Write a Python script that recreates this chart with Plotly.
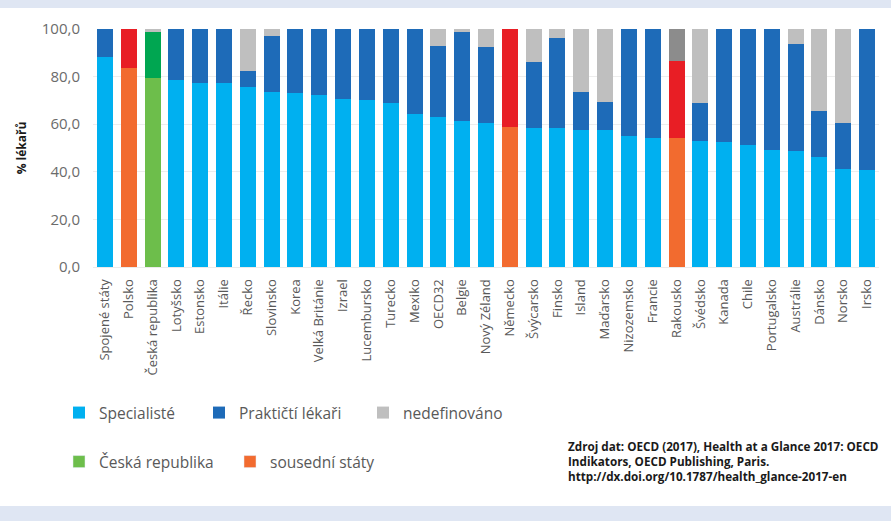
import plotly.graph_objects as go

countries = ["Spojené státy", "Polsko", "Česká republika", "Lotyšsko", "Estonsko", "Itálie",
             "Řecko", "Slovinsko", "Korea", "Velká Británie", "Izrael", "Lucembursko", "Turecko",
             "Mexiko", "OECD32", "Belgie", "Nový Zéland", "Německo", "Švýcarsko", "Finsko",
             "Island", "Maďarsko", "Nizozemsko", "Francie", "Rakousko", "Švédsko", "Kanada",
             "Chile", "Portugalsko", "Austrálie", "Dánsko", "Norsko", "Irsko"]
specialiste = [88.4, 83.5, 79.5, 78.6, 77.3, 77.2, 75.8, 73.7, 73.1, 72.1, 70.6, 70.0, 68.8,
               64.2, 63.2, 61.5, 60.6, 58.7, 58.3, 58.3, 57.6, 57.4, 55.2, 54.1, 54.1, 53.1, 52.7,
               51.3, 49.2, 48.7, 46.1, 41.2, 40.8]
prakticti = [11.6, 16.5, 19.3, 21.4, 22.7, 22.8, 6.6, 23.5, 26.9, 28.1, 29.4, 30.0, 31.2,
             35.8, 29.8, 37.4, 32.0, 41.3, 28.0, 38.0, 16.1, 11.8, 44.8, 45.9, 32.6, 15.7, 47.3,
             48.7, 50.8, 44.9, 19.6, 19.4, 59.2]
nedefinovano = [0.0, 0.0, 1.2, 0.0, 0.0, 0.0, 17.6, 2.8, 0.0, 0.0, 0.0, 0.0, 0.0,
                0.0, 7.0, 1.1, 7.4, 0.0, 13.7, 3.7, 26.3, 30.8, 0.0, 0.0, 13.3, 31.2, 0.0,
                0.0, 0.0, 6.4, 34.3, 39.4, 0.0]
group = ["oecd", "soused", "cr", "oecd", "oecd", "oecd", "oecd", "oecd", "oecd", "oecd", "oecd",
         "oecd", "oecd", "oecd", "oecd", "oecd", "oecd", "soused", "oecd", "oecd", "oecd", "oecd",
         "oecd", "oecd", "soused", "oecd", "oecd", "oecd", "oecd", "oecd", "oecd", "oecd", "oecd"]

C_SPEC, C_PRAK, C_NED = "#00B0F0", "#1E6BB8", "#BFBFBF"
C_CR1, C_CR2 = "#6DBE4B", "#00A651"
C_SO1, C_SO2, C_SO3 = "#F26B2F", "#E81E25", "#8C8C8C"

spec_col = [C_CR1 if g == "cr" else C_SO1 if g == "soused" else C_SPEC for g in group]
prak_col = [C_CR2 if g == "cr" else C_SO2 if g == "soused" else C_PRAK for g in group]
ned_col = [C_SO3 if g == "soused" else C_NED for g in group]

W, H = 891, 521
L, R, T, B = 93, 12, 29, 254
pw, ph = W - L - R, H - T - B


def px(xp):
    return (xp - L) / pw


def py(yp):
    return (H - B - yp) / ph


fig = go.Figure()
fig.add_trace(go.Bar(x=countries, y=specialiste, name="Specialisté", marker_color=spec_col,
                     marker_line_width=0, legend="legend", showlegend=True))
fig.add_trace(go.Bar(x=countries, y=prakticti, name="Praktičtí lékaři", marker_color=prak_col,
                     marker_line_width=0, legend="legend2", showlegend=True))
fig.add_trace(go.Bar(x=countries, y=nedefinovano, name="nedefinováno", marker_color=ned_col,
                     marker_line_width=0, legend="legend3", showlegend=True))
# legend-only entries
fig.add_trace(go.Bar(x=[None], y=[None], name="Česká republika", marker_color=C_CR1,
                     legend="legend4", showlegend=True))
fig.add_trace(go.Bar(x=[None], y=[None], name="sousední státy", marker_color=C_SO1,
                     legend="legend5", showlegend=True))

band = "#DFE6F3"
fig.add_shape(type="rect", xref="paper", yref="paper", x0=px(0), x1=px(W), y0=py(0), y1=py(8),
              fillcolor=band, line_width=0, layer="below")
fig.add_shape(type="rect", xref="paper", yref="paper", x0=px(0), x1=px(W), y0=py(506), y1=py(H),
              fillcolor=band, line_width=0, layer="below")

legfont = dict(family="Open Sans", size=15.5, color="#595959")


def leg(xsq, ycen):
    return dict(orientation="h", x=px(xsq - 14), xanchor="left", y=py(ycen), yanchor="middle",
                font=legfont, bgcolor="rgba(0,0,0,0)", itemclick=False, visible=True)


fig.update_layout(
    width=W, height=H,
    margin=dict(l=L, r=R, t=T, b=B, autoexpand=False),
    paper_bgcolor="white", plot_bgcolor="white",
    barmode="stack", bargap=0.33, showlegend=True,
    font=dict(family="Open Sans", color="#595959"),
    legend=leg(73, 413), legend2=leg(213, 413), legend3=leg(377, 413),
    legend4=leg(73, 462), legend5=leg(244, 462),
    xaxis=dict(tickangle=-90, tickfont=dict(family="Open Sans", size=13, color="#595959"),
               showgrid=False, showline=True, linecolor="#EBEBEB", ticks="",
               ticklabelstandoff=6),
    yaxis=dict(range=[0, 100], tickvals=[0, 20, 40, 60, 80, 100],
               ticktext=["0,0", "20,0", "40,0", "60,0", "80,0", "100,0"],
               tickfont=dict(family="Open Sans", size=15, color="#6B6B6B"),
               showgrid=True, gridcolor="#EDEDED", zeroline=False, ticks="",
               ticklabelstandoff=12,
               title=dict(text="<b>% lékařů</b>", font=dict(family="Open Sans", size=12,
                                                             color="#1A1A1A"), standoff=12)),
)

src = ("Zdroj dat: OECD (2017), Health at a Glance 2017: OECD<br>"
       "Indikators, OECD Publishing, Paris.<br>"
       "http://dx.doi.org/10.1787/health_glance-2017-en")
fig.add_annotation(xref="paper", yref="paper", x=px(566), y=py(436), xanchor="left",
                   yanchor="top", align="left", showarrow=False,
                   text="<b>" + src + "</b>",
                   font=dict(family="Open Sans", size=11.7, color="#1A1A1A"))

fig.write_html("out.html")
